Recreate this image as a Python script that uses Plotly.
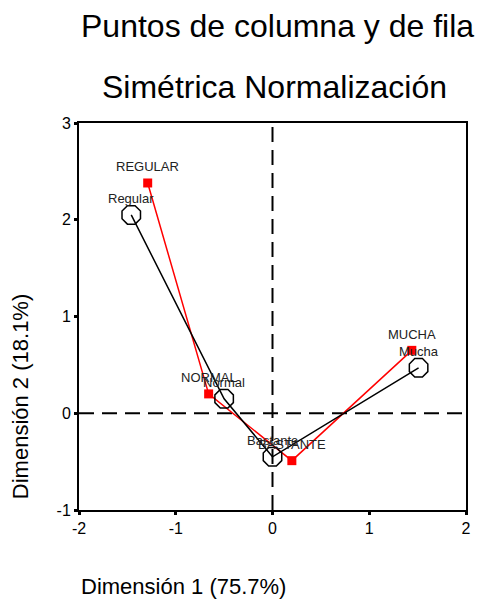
import plotly.graph_objects as go

# Row points (black octagons)
row_labels = ["Regular", "Normal", "Bastante", "Mucha"]
row_x = [-1.46, -0.50, 0.00, 1.51]
row_y = [2.05, 0.15, -0.45, 0.47]

# Column points (red squares)
col_labels = ["REGULAR", "NORMAL", "BASTANTE", "MUCHA"]
col_x = [-1.29, -0.66, 0.20, 1.44]
col_y = [2.38, 0.20, -0.49, 0.65]

tick_vals_x = [-2, -1, 0, 1, 2]
tick_text_x = ["-2", "-1", "0", "1", "2"]
tick_vals_y = [-1, 0, 1, 2, 3]
tick_text_y = ["-1", "0", "1", "2", "3"]

FONT = "Liberation Sans, Arial, Helvetica, sans-serif"

fig = go.Figure()
fig.add_trace(go.Scatter(
    x=col_x, y=col_y, mode="lines+markers",
    line=dict(color="#ff0000", width=1.5),
    marker=dict(symbol="square", size=9, color="#ff0000"),
    hoverinfo="skip", showlegend=False))
fig.add_trace(go.Scatter(
    x=row_x, y=row_y, mode="lines+markers",
    line=dict(color="#000000", width=1.5),
    marker=dict(symbol="octagon-open", size=20, color="#000000", line=dict(width=1.5, color="#000000")),
    hoverinfo="skip", showlegend=False))

annotations = []
for lbl, x, y in zip(row_labels, row_x, row_y):
    annotations.append(dict(x=x, y=y, text=lbl, showarrow=False, yshift=16,
                            font=dict(family=FONT, size=13, color="#222222")))
for lbl, x, y in zip(col_labels, col_x, col_y):
    annotations.append(dict(x=x, y=y, text=lbl, showarrow=False, yshift=16,
                            font=dict(family=FONT, size=13, color="#222222")))

# titles
annotations.append(dict(xref="paper", yref="paper", x=0.512, y=1.25, text="Puntos de columna y de fila",
                        showarrow=False, xanchor="center", yanchor="middle",
                        font=dict(family=FONT, size=32, color="#000000")))
annotations.append(dict(xref="paper", yref="paper", x=0.506, y=1.093, text="Simétrica Normalización",
                        showarrow=False, xanchor="center", yanchor="middle",
                        font=dict(family=FONT, size=32, color="#000000")))
annotations.append(dict(xref="paper", yref="paper", x=0.0, y=-0.197, text="Dimensión 1 (75.7%)",
                        showarrow=False, xanchor="left", yanchor="middle",
                        font=dict(family=FONT, size=22, color="#000000")))
annotations.append(dict(xref="paper", yref="paper", x=-0.151, y=0.293, text="Dimensión 2 (18.1%)",
                        showarrow=False, xanchor="center", yanchor="middle", textangle=-90,
                        font=dict(family=FONT, size=22, color="#000000")))

shapes = [
    dict(type="line", xref="x", yref="paper", x0=0, x1=0, y0=0, y1=1,
         line=dict(color="#000000", width=2, dash="15px,8px"), layer="below"),
    dict(type="line", xref="paper", yref="y", x0=0, x1=1, y0=0, y1=0,
         line=dict(color="#000000", width=2, dash="15px,8px"), layer="below"),
]

axis_common = dict(showgrid=False, zeroline=False, showline=True, mirror=True,
                   linecolor="#000000", linewidth=2, ticks="outside", ticklen=3,
                   tickwidth=3, tickcolor="#000000",
                   tickfont=dict(family=FONT, size=16, color="#000000"))

fig.update_layout(
    width=484, height=599,
    margin=dict(l=79, r=18, t=123, b=89),
    paper_bgcolor="#ffffff", plot_bgcolor="#ffffff",
    xaxis=dict(range=[-2, 2], tickvals=tick_vals_x, ticktext=tick_text_x, **axis_common),
    yaxis=dict(range=[-1, 3], tickvals=tick_vals_y, ticktext=tick_text_y, **axis_common),
    annotations=annotations, shapes=shapes,
)

fig.write_html("out.html", config={"displayModeBar": False},
               post_script="document.body.style.margin='0';document.body.style.overflow='hidden';")
